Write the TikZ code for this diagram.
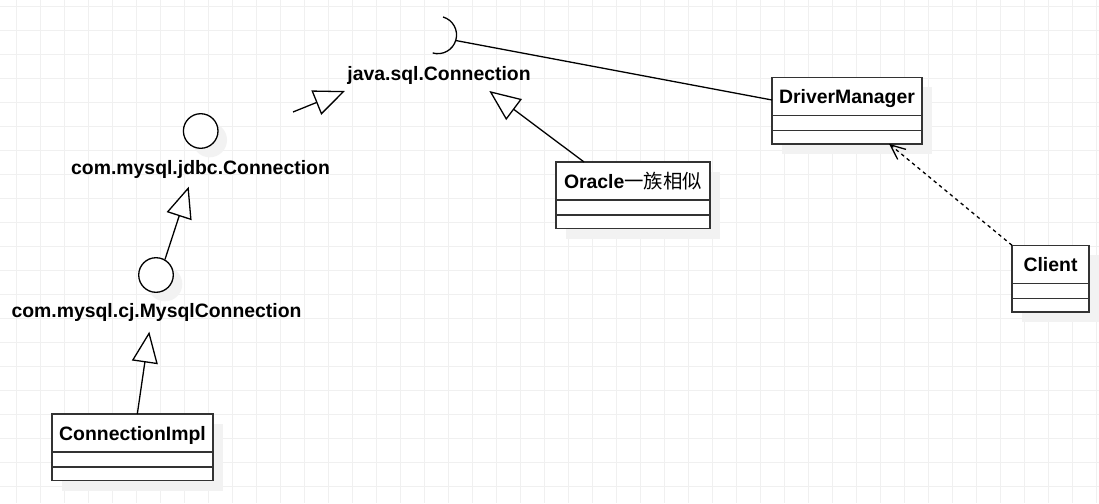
\documentclass[tikz,border=0pt]{standalone}
\usepackage{fontspec}
\setmainfont{Liberation Sans}
\newfontfamily\cjkfont{Noto Sans CJK SC}
\usetikzlibrary{arrows.meta,shadows}
\tikzset{
  gridline/.style={draw=black!6, line width=0.8pt},
  lbl/.style={font=\fontsize{19.4}{23}\selectfont\bfseries, inner sep=0pt, anchor=base},
  classbox/.style={draw=black!80, line width=1.5pt, fill=white, inner sep=0pt, outer sep=0pt,
    anchor=north west, minimum height=66.5pt,
    drop shadow={shadow xshift=10pt, shadow yshift=-10pt, fill=black!5, opacity=1}},
  divider/.style={draw=black!80, line width=1.3pt},
  iface/.style={circle, draw=black, line width=1.3pt, fill=white, minimum size=34.6pt, inner sep=0pt,
    drop shadow={shadow xshift=9pt, shadow yshift=-9pt, fill=black!5, opacity=1}},
  conn/.style={draw=black, line width=1.3pt},
  gen/.style={conn, -{Triangle[open, length=31pt, width=26pt, fill=white]}},
  dep/.style={conn, dash pattern=on 3.5pt off 3.5pt, -{Straight Barb[length=15pt, width=13pt]}},
}
\newcommand{\umlclass}[5]{%
  \node[classbox, minimum width=#4pt] (#1) at (#2,#3) {};
  \draw[divider] ([yshift=-38pt]#1.north west) -- ([yshift=-38pt]#1.north east);
  \draw[divider] ([yshift=-53pt]#1.north west) -- ([yshift=-53pt]#1.north east);
  \node[lbl] (#1t) at ([yshift=-26.3pt]#1.north) {#5};
}
\begin{document}
\begin{tikzpicture}[x=1pt,y=-1pt]
  \fill[white] (0,0) rectangle (1099,503);
  \useasboundingbox (0,0) rectangle (1099,503);
  \foreach \gx in {16,40,...,1096} \draw[gridline] (\gx,0) -- (\gx,503);
  \foreach \gy in {6,30,...,502} \draw[gridline] (0,\gy) -- (1099,\gy);

  % classes
  \umlclass{cimpl}{52}{414}{161}{ConnectionImpl}
  \umlclass{oracle}{556}{162}{154}{Oracle{\cjkfont\mdseries 一族相似}}
  \umlclass{dm}{772}{77.3}{150}{DriverManager}
  \umlclass{client}{1012}{245.3}{77}{Client}

  % interfaces
  \node[lbl] (javat) at (439,80) {java.sql.Connection};
  \node[iface] (c1) at (200.7,131) {};
  \node[lbl] (jdbct) at (200.5,174) {com.mysql.jdbc.Connection};
  \node[iface] (c2) at (156,275) {};
  \node[lbl] (mysqlt) at (156.5,317.7) {com.mysql.cj.MysqlConnection};

  % socket
  \draw[conn] (443,17) arc[start angle=-74, end angle=106, radius=18.7];
  \coordinate (sock) at (455.7,40.5);

  % free ends
  \coordinate (g1s) at (293,112);
  \coordinate (g1t) at (345,91);
  \coordinate (g2t) at (188.7,186.7);
  \coordinate (g3t) at (149.3,331.7);
  \coordinate (g4t) at (489.3,91);

  % connectors
  \draw[gen] (g1s) -- (g1t);
  \draw[gen] (c2.60) -- (g2t);
  \draw[gen] ([xshift=4.8pt]cimpl.north) -- (g3t);
  \draw[gen] ([xshift=-49pt]oracle.north) -- (g4t);
  \draw[conn] (sock) -- ([yshift=-22.7pt]dm.north west);
  \draw[dep] (client.north west) -- ([xshift=42pt]dm.south);
\end{tikzpicture}
\end{document}
